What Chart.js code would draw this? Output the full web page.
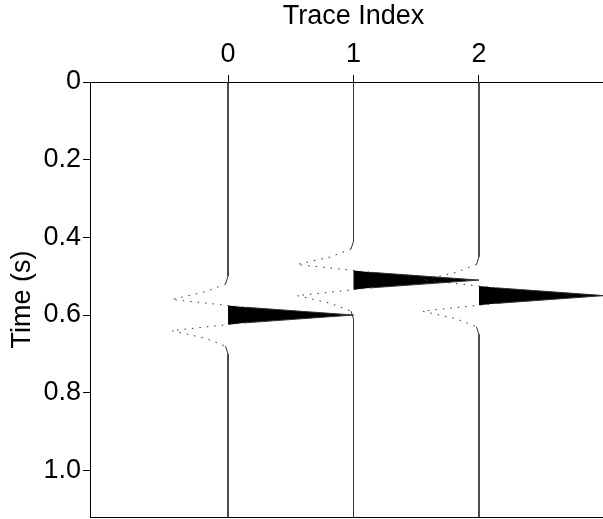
<!DOCTYPE html>
<html>
<head>
<meta charset="utf-8">
<script src="https://cdn.jsdelivr.net/npm/chart.js@4/dist/chart.umd.min.js"></script>
<style>
  html, body { margin: 0; padding: 0; background: #fff; overflow: hidden; }
  #wrap { width: 603px; height: 519px; overflow: hidden; }
</style>
</head>
<body>
<div id="wrap"><canvas id="chart" width="620" height="519"></canvas></div>
<script>
// samples: time (s) and trace deflection (in trace units)
const times0 = [0, 0.50, 0.52, 0.54, 0.56, 0.58, 0.60, 0.62, 0.64, 0.66, 0.68, 0.70, 1.12];
const amps0 = [0, 0, -0.02, -0.18, -0.45, 0.14, 1.0, 0.14, -0.45, -0.18, -0.02, 0, 0];

const times1 = [0, 0.41, 0.43, 0.45, 0.47, 0.49, 0.51, 0.53, 0.55, 0.57, 0.59, 0.61, 1.12];
const amps1 = [0, 0, -0.02, -0.18, -0.45, 0.14, 1.0, 0.14, -0.45, -0.18, -0.02, 0, 0];

const times2 = [0, 0.45, 0.47, 0.49, 0.51, 0.53, 0.55, 0.57, 0.59, 0.61, 0.63, 0.65, 1.12];
const amps2 = [0, 0, -0.02, -0.18, -0.45, 0.14, 1.0, 0.14, -0.45, -0.18, -0.02, 0, 0];

const xTicks = [0, 1, 2];
const yTicks = [0, 0.2, 0.4, 0.6, 0.8, 1.0];
const yTickLabels = ["0", "0.2", "0.4", "0.6", "0.8", "1.0"];

const traces = [
  { times: times0, amps: amps0 },
  { times: times1, amps: amps1 },
  { times: times2, amps: amps2 },
];

const font = { family: "'Liberation Sans', Arial, sans-serif", size: 27 };

// positive side of a trace, cut at the baseline crossings
function positivePart(times, amps, k) {
  const pts = [];
  for (let i = 0; i < times.length; i++) {
    if (i > 0 && (amps[i - 1] < 0) !== (amps[i] < 0)) {
      const f = amps[i - 1] / (amps[i - 1] - amps[i]);
      pts.push({ x: k, y: times[i - 1] + f * (times[i] - times[i - 1]) });
    }
    pts.push({ x: k + Math.max(0, amps[i]), y: times[i] });
  }
  return pts;
}

const datasets = [];
traces.forEach((tr, k) => {
  datasets.push({
    data: tr.times.map((t, i) => ({ x: k + tr.amps[i], y: t })),
    borderColor: "#333",
    borderWidth: 1,
    pointRadius: 0,
    fill: false,
    order: 1,
    segment: {
      borderDash: (ctx) =>
        ctx.p0.parsed.x < k - 0.05 || ctx.p1.parsed.x < k - 0.05 ? [1.5, 6] : undefined,
    },
  });
  datasets.push({
    data: positivePart(tr.times, tr.amps, k),
    borderWidth: 0,
    borderColor: "#000",
    backgroundColor: "#000",
    pointRadius: 0,
    fill: { value: k },
    order: 2,
  });
});

const noPad = (s) => { s.paddingTop = 0; s.paddingBottom = 0; };

const chart = document.querySelector("#chart").getContext("2d");
new Chart(chart, {
  type: "line",
  data: { datasets },
  options: {
    indexAxis: "y",
    responsive: false,
    animation: false,
    layout: { padding: { left: 0, top: 0, right: 3, bottom: 1 } },
    plugins: { legend: { display: false }, tooltip: { enabled: false } },
    scales: {
      x: {
        type: "linear",
        position: "top",
        min: -1.1,
        max: 3.1,
        afterBuildTicks: (s) => { s.ticks = xTicks.map((v) => ({ value: v })); },
        afterFit: (s) => { s.height = 82; s.paddingLeft = 0; s.paddingRight = 0; },
        ticks: { font, color: "#000", padding: 4 },
        grid: { drawOnChartArea: false, drawTicks: true, tickLength: 7, color: "#000" },
        border: { display: true, color: "#000", width: 1 },
        title: { display: true, text: "Trace Index", font, color: "#000", padding: { top: 0, bottom: 0 } },
      },
      x2: {
        type: "linear",
        position: "bottom",
        min: -1.1,
        max: 3.1,
        afterFit: (s) => { s.height = 1; s.paddingLeft = 0; s.paddingRight = 0; },
        ticks: { display: false },
        grid: { drawOnChartArea: false, drawTicks: false },
        border: { display: true, color: "#000", width: 1 },
      },
      y: {
        type: "linear",
        reverse: true,
        min: 0,
        max: 1.12,
        afterBuildTicks: (s) => { s.ticks = yTicks.map((v) => ({ value: v })); },
        afterFit: (s) => { s.width = 90; noPad(s); },
        ticks: {
          font,
          color: "#000",
          padding: 2,
          callback: (v) => yTickLabels[yTicks.indexOf(v)] ?? "",
        },
        grid: { drawOnChartArea: false, drawTicks: true, tickLength: 7, color: "#000" },
        border: { display: true, color: "#000", width: 1 },
        title: { display: true, text: "Time (s)", font, color: "#000", padding: { top: 6, bottom: 0 } },
      },
    },
  },
});
</script>
</body>
</html>
